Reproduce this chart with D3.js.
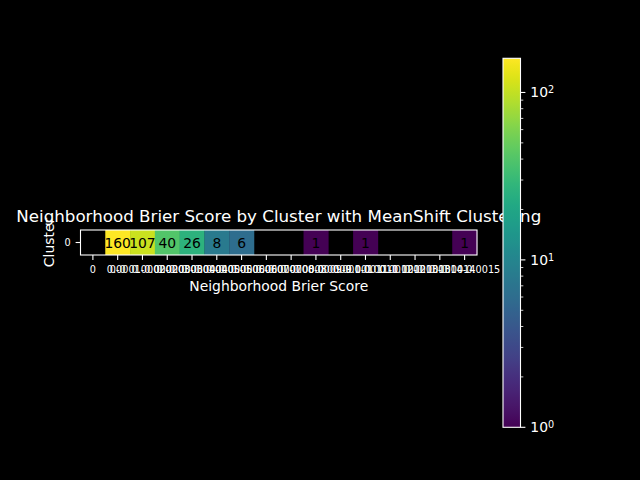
<!DOCTYPE html>
<html>
<head>
<meta charset="utf-8">
<script src="https://cdn.jsdelivr.net/npm/d3@7"></script>
<style>
  html, body { margin: 0; padding: 0; background: #000; }
  svg { display: block; }
  text { font-family: "DejaVu Sans", sans-serif; }
</style>
</head>
<body>
<script>
// ---- data ----
const clusters = ["0"];
const binLabels = ["0", "0-0", "0.0001-0.0002", "0.0002-0.0003", "0.0003-0.0004",
  "0.0004-0.0005", "0.0005-0.0006", "0.0006-0.0007", "0.0007-0.0008", "0.0008-0.0009",
  "0.0009-0.001", "0.001-0.0011", "0.0011-0.0012", "0.0012-0.0013", "0.0013-0.0014",
  "0.0014-0.0015"];
const counts = [0, 160, 107, 40, 26, 8, 6, 0, 0, 1, 0, 1, 0, 0, 0, 1];
const colorbarMajor = [1, 10, 100];
const colorbarMinor = [2, 3, 4, 5, 6, 7, 8, 9, 20, 30, 40, 50, 60, 70, 80, 90];

const W = 640, H = 480;
const svg = d3.select("body").append("svg").attr("width", W).attr("height", H);
svg.append("rect").attr("width", W).attr("height", H).attr("fill", "#000");

const pLeft = 80.5, pRight = 477, pTop = 230, pBottom = 255;
const x = d3.scaleBand().domain(d3.range(binLabels.length)).range([pLeft, pRight]).padding(0);
const y = d3.scaleBand().domain(clusters).range([pTop, pBottom]).padding(0);

const vmax = d3.max(counts);
const norm = d3.scaleLog().domain([1, vmax]).range([0, 1]).clamp(true);
const color = v => d3.interpolateViridis(norm(v));

const cells = [];
clusters.forEach(c => counts.forEach((v, i) => cells.push({c, i, v})));

const g = svg.append("g");
g.selectAll("rect.cell").data(cells.filter(d => d.v > 0)).join("rect")
  .attr("class", "cell")
  .attr("x", d => x(d.i)).attr("y", d => y(d.c))
  .attr("width", x.bandwidth() + 0.3).attr("height", y.bandwidth())
  .attr("fill", d => color(d.v));

g.selectAll("text.ann").data(cells.filter(d => d.v > 0)).join("text")
  .attr("class", "ann")
  .attr("x", d => x(d.i) + x.bandwidth() / 2)
  .attr("y", d => y(d.c) + y.bandwidth() / 2)
  .attr("dy", "0.36em")
  .attr("text-anchor", "middle")
  .attr("font-size", "13.9px")
  .attr("fill", "#000")
  .text(d => d.v);

// frame
svg.append("rect").attr("x", pLeft).attr("y", pTop)
  .attr("width", pRight - pLeft).attr("height", pBottom - pTop)
  .attr("fill", "none").attr("stroke", "#fff").attr("stroke-width", 1.1);

// x axis
const xAxis = svg.append("g").attr("transform", `translate(0,${pBottom})`)
  .call(d3.axisBottom(x).tickSize(4.9).tickPadding(6).tickFormat(i => binLabels[i]));
xAxis.select(".domain").remove();
xAxis.selectAll("line").attr("stroke", "#fff").attr("stroke-width", 1.1);
xAxis.selectAll("text").attr("fill", "#fff").attr("font-size", "9.7px")
  .attr("font-family", "DejaVu Sans");

// y axis
const yAxis = svg.append("g").attr("transform", `translate(${pLeft},0)`)
  .call(d3.axisLeft(y).tickSize(4.9).tickPadding(4.9));
yAxis.select(".domain").remove();
yAxis.selectAll("line").attr("stroke", "#fff").attr("stroke-width", 1.1);
yAxis.selectAll("text").attr("fill", "#fff").attr("font-size", "9.7px")
  .attr("font-family", "DejaVu Sans");

// titles
svg.append("text").attr("x", (pLeft + pRight) / 2).attr("y", 221.7)
  .attr("text-anchor", "middle").attr("fill", "#fff").attr("font-size", "16.7px")
  .text("Neighborhood Brier Score by Cluster with MeanShift Clustering");
svg.append("text").attr("x", (pLeft + pRight) / 2).attr("y", 291)
  .attr("text-anchor", "middle").attr("fill", "#fff").attr("font-size", "13.9px")
  .text("Neighborhood Brier Score");
svg.append("text").attr("transform", `translate(54,${(pTop + pBottom) / 2}) rotate(-90)`)
  .attr("text-anchor", "middle").attr("fill", "#fff").attr("font-size", "13.9px")
  .text("Cluster");

// colorbar
const cbX = 503, cbW = 17.5, cbTop = 58.3, cbBot = 427.3;
const cy = d3.scaleLog().domain([1, vmax]).range([cbBot, cbTop]);
const defs = svg.append("defs");
const grad = defs.append("linearGradient").attr("id", "cbgrad")
  .attr("x1", 0).attr("y1", 1).attr("x2", 0).attr("y2", 0);
d3.range(0, 1.0001, 0.02).forEach(t => grad.append("stop")
  .attr("offset", t).attr("stop-color", d3.interpolateViridis(t)));
svg.append("rect").attr("x", cbX).attr("y", cbTop).attr("width", cbW).attr("height", cbBot - cbTop)
  .attr("fill", "url(#cbgrad)").attr("stroke", "#fff").attr("stroke-width", 1.1);

const cbAxis = svg.append("g").attr("transform", `translate(${cbX + cbW},0)`);
cbAxis.selectAll("line.major").data(colorbarMajor).join("line").attr("class", "major")
  .attr("x1", 0).attr("x2", 4.9).attr("y1", d => cy(d)).attr("y2", d => cy(d))
  .attr("stroke", "#fff").attr("stroke-width", 1.1);
cbAxis.selectAll("line.minor").data(colorbarMinor.filter(v => v <= vmax)).join("line").attr("class", "minor")
  .attr("x1", 0).attr("x2", 2.8).attr("y1", d => cy(d)).attr("y2", d => cy(d))
  .attr("stroke", "#fff").attr("stroke-width", 0.8);
const lbl = cbAxis.selectAll("text").data(colorbarMajor).join("text")
  .attr("x", 9.8).attr("y", d => cy(d) + 5).attr("fill", "#fff").attr("font-size", "13.9px");
lbl.append("tspan").text("10");
lbl.append("tspan").attr("dy", "-0.45em").attr("font-size", "9.7px")
  .text(d => String(Math.round(Math.log10(d))));
</script>
</body>
</html>
